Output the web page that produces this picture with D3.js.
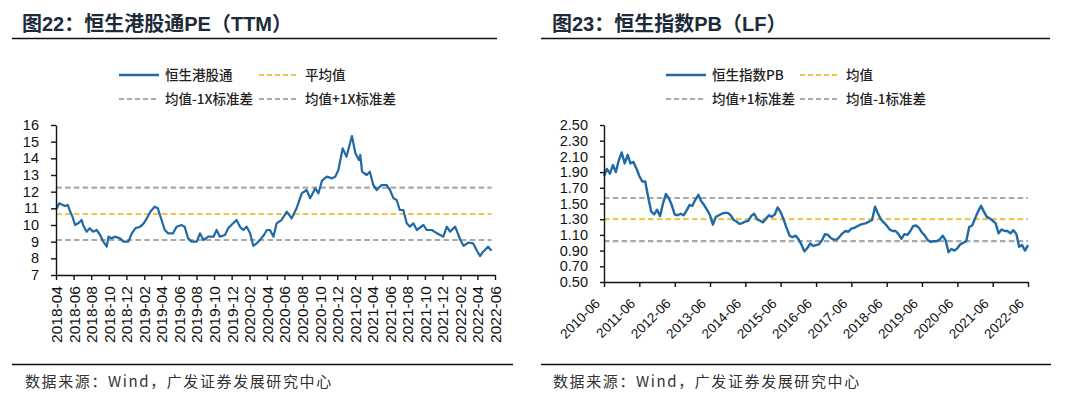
<!DOCTYPE html>
<html><head><meta charset="utf-8">
<script src="https://cdn.jsdelivr.net/npm/d3@7"></script>
<style>
body{margin:0;background:#fff;}
svg{display:block;}
</style></head>
<body>
<svg id="c" width="1080" height="399"></svg>
<script>
// ---------- Left chart: 恒生港股通PE（TTM） ----------
const peDates = ["2018-04-02","2018-04-12","2018-05-02","2018-05-12","2018-05-18","2018-05-28","2018-06-06","2018-06-17","2018-06-29","2018-07-04","2018-07-16","2018-07-27","2018-08-08","2018-08-20","2018-09-01","2018-09-12","2018-09-24","2018-09-30","2018-10-11","2018-10-22","2018-11-09","2018-11-21","2018-12-08","2018-12-20","2019-01-01","2019-01-18","2019-01-30","2019-02-10","2019-02-22","2019-03-09","2019-03-20","2019-04-02","2019-04-13","2019-04-25","2019-05-12","2019-05-24","2019-06-10","2019-06-21","2019-07-03","2019-07-15","2019-08-02","2019-08-13","2019-08-25","2019-09-11","2019-09-29","2019-10-10","2019-10-21","2019-11-08","2019-11-19","2019-12-06","2019-12-18","2019-12-30","2020-01-10","2020-01-22","2020-02-03","2020-02-14","2020-02-26","2020-03-08","2020-03-22","2020-04-01","2020-04-12","2020-04-24","2020-05-05","2020-05-22","2020-06-09","2020-06-26","2020-07-13","2020-07-31","2020-08-17","2020-08-29","2020-09-16","2020-09-27","2020-10-09","2020-10-26","2020-11-13","2020-11-24","2020-12-05","2020-12-20","2021-01-02","2021-01-21","2021-02-02","2021-02-14","2021-02-19","2021-02-25","2021-03-13","2021-03-24","2021-04-05","2021-04-17","2021-05-04","2021-05-21","2021-06-02","2021-06-14","2021-06-25","2021-07-06","2021-07-18","2021-07-30","2021-08-10","2021-08-22","2021-09-03","2021-09-26","2021-10-07","2021-10-25","2021-11-12","2021-12-04","2021-12-16","2021-12-27","2022-01-14","2022-02-01","2022-02-12","2022-03-01","2022-03-17","2022-03-29","2022-04-10","2022-04-21","2022-05-08","2022-05-20"];
const peValues = [10.94,11.30,11.14,11.20,10.90,10.50,10.00,10.10,10.30,10.00,9.60,9.80,9.60,9.70,9.40,9.00,8.70,9.30,9.20,9.30,9.20,9.00,9.00,9.50,9.80,9.90,10.10,10.40,10.80,11.10,11.00,10.30,9.70,9.50,9.50,9.90,10.00,9.90,9.20,9.00,9.00,9.50,9.10,9.30,9.30,9.70,9.30,9.40,9.80,10.10,10.30,9.90,9.70,9.90,9.50,8.75,8.90,9.10,9.40,9.70,9.70,9.30,10.10,10.30,10.80,10.40,11.00,11.90,12.10,11.60,12.20,11.90,12.66,12.90,12.80,12.90,13.30,14.60,14.10,15.34,14.30,13.90,14.20,13.20,13.00,13.20,12.40,12.10,12.40,12.40,12.10,11.60,11.50,10.90,10.90,10.10,9.90,10.10,9.70,10.00,9.70,9.70,9.50,9.30,9.90,9.60,9.90,9.10,8.75,8.95,8.90,8.50,8.14,8.40,8.70,8.46];
const peMean = 10.66, pePlus = 12.24, peMinus = 9.10;
const peXTicks = ["2018-04","2018-06","2018-08","2018-10","2018-12","2019-02","2019-04","2019-06","2019-08","2019-10","2019-12","2020-02","2020-04","2020-06","2020-08","2020-10","2020-12","2021-02","2021-04","2021-06","2021-08","2021-10","2021-12","2022-02","2022-04","2022-06"];
const peYTicks = [7,8,9,10,11,12,13,14,15,16];
const peLegend = ["恒生港股通","平均值","均值-1X标准差","均值+1X标准差"];

// ---------- Right chart: 恒生指数PB（LF） ----------
const pbDates = ["2010-06","2010-07","2010-08","2010-09","2010-10","2010-11","2010-12","2011-01","2011-02","2011-03","2011-04","2011-05",
"2011-06","2011-07","2011-08","2011-09","2011-10","2011-11","2011-12","2012-01","2012-02","2012-03","2012-04","2012-05",
"2012-06","2012-07","2012-08","2012-09","2012-10","2012-11","2012-12","2013-01","2013-02","2013-03","2013-04","2013-05",
"2013-06","2013-07","2013-08","2013-09","2013-10","2013-11","2013-12","2014-01","2014-02","2014-03","2014-04","2014-05",
"2014-06","2014-07","2014-08","2014-09","2014-10","2014-11","2014-12","2015-01","2015-02","2015-03","2015-04","2015-05",
"2015-06","2015-07","2015-08","2015-09","2015-10","2015-11","2015-12","2016-01","2016-02","2016-03","2016-04","2016-05",
"2016-06","2016-07","2016-08","2016-09","2016-10","2016-11","2016-12","2017-01","2017-02","2017-03","2017-04","2017-05",
"2017-06","2017-07","2017-08","2017-09","2017-10","2017-11","2017-12","2018-01","2018-02","2018-03","2018-04","2018-05",
"2018-06","2018-07","2018-08","2018-09","2018-10","2018-11","2018-12","2019-01","2019-02","2019-03","2019-04","2019-05",
"2019-06","2019-07","2019-08","2019-09","2019-10","2019-11","2019-12","2020-01","2020-02","2020-03","2020-04","2020-05",
"2020-06","2020-07","2020-08","2020-09","2020-10","2020-11","2020-12","2021-01","2021-02","2021-03","2021-04","2021-05",
"2021-06","2021-07","2021-08","2021-09","2021-10","2021-11","2021-12","2022-01","2022-02","2022-03","2022-04","2022-05","2022-06"];
const pbValues = [1.85,1.94,1.88,1.99,1.90,2.05,2.15,2.01,2.12,2.01,2.03,1.95,
1.85,1.78,1.78,1.58,1.40,1.36,1.42,1.34,1.50,1.62,1.57,1.48,
1.36,1.35,1.37,1.35,1.41,1.48,1.47,1.55,1.61,1.53,1.48,1.42,
1.35,1.23,1.33,1.35,1.37,1.38,1.38,1.35,1.29,1.27,1.24,1.25,
1.27,1.28,1.34,1.37,1.30,1.28,1.26,1.31,1.35,1.33,1.36,1.45,
1.39,1.30,1.19,1.09,1.07,1.09,1.05,0.98,0.89,0.93,0.99,0.96,
0.97,0.98,1.03,1.11,1.10,1.06,1.04,1.04,1.08,1.12,1.15,1.14,
1.18,1.19,1.21,1.23,1.24,1.25,1.27,1.29,1.46,1.38,1.30,1.26,
1.22,1.17,1.15,1.15,1.11,1.05,1.11,1.10,1.15,1.21,1.22,1.19,
1.13,1.09,1.03,1.01,1.02,1.02,1.04,1.09,1.03,0.88,0.92,0.90,
0.93,0.98,1.00,1.02,1.20,1.22,1.31,1.40,1.47,1.40,1.33,1.31,
1.28,1.25,1.12,1.17,1.15,1.15,1.12,1.16,1.11,0.95,0.97,0.90,0.97];
const pbMean = 1.30, pbPlus = 1.57, pbMinus = 1.02;
const pbXTicks = ["2010-06","2011-06","2012-06","2013-06","2014-06","2015-06","2016-06","2017-06","2018-06","2019-06","2020-06","2021-06","2022-06"];
const pbYTicks = [0.5,0.7,0.9,1.1,1.3,1.5,1.7,1.9,2.1,2.3,2.5];
const pbLegend = ["恒生指数PB","均值","均值+1标准差","均值-1标准差"];

const titles = ["图22：恒生港股通PE（TTM）","图23：恒生指数PB（LF）"];
const sourceText = "数据来源：Wind，广发证券发展研究中心";

const BLUE = "#1f6aa6", GOLD = "#ecc54c", GRAY = "#a9a9a9";
const CJK = "'Noto Sans CJK SC', sans-serif";
const LAT = "'Liberation Sans', Arial, 'Noto Sans CJK SC', sans-serif";

const svg = d3.select("#c");
const pDay = d3.timeParse("%Y-%m-%d"), pMon = d3.timeParse("%Y-%m");

function frame(x0, x1, t1, tx, title, srcX) {
  svg.append("text").attr("x", tx).attr("y", 31)
    .attr("font-family", LAT).attr("font-weight", "bold").attr("font-size", 20)
    .attr("fill", "#1c2a3a").text(title);
  svg.append("line").attr("x1", x0).attr("x2", t1).attr("y1", 38.5).attr("y2", 38.5)
    .attr("stroke", "#111").attr("stroke-width", 1.5);
  svg.append("line").attr("x1", x0).attr("x2", x1).attr("y1", 364.5).attr("y2", 364.5)
    .attr("stroke", "#111").attr("stroke-width", 1.5);
  svg.append("text").attr("x", srcX).attr("y", 387)
    .attr("font-family", CJK).attr("font-size", 15).attr("letter-spacing", 1.6)
    .attr("fill", "#333").text(sourceText);
}

function legend(lx1, lx2, labels) {
  const rows = [
    {x: lx1, y: 75, c: BLUE, dash: null, t: labels[0]},
    {x: lx2, y: 75, c: GOLD, dash: "5,3", t: labels[1]},
    {x: lx1, y: 99, c: GRAY, dash: "5,3", t: labels[2]},
    {x: lx2, y: 99, c: GRAY, dash: "5,3", t: labels[3]}
  ];
  rows.forEach(r => {
    svg.append("line").attr("x1", r.x).attr("x2", r.x + 40).attr("y1", r.y).attr("y2", r.y)
      .attr("stroke", r.c).attr("stroke-width", r.dash ? 2 : 2.5)
      .attr("stroke-dasharray", r.dash);
    svg.append("text").attr("x", r.x + 46).attr("y", r.y + 5)
      .attr("font-family", CJK).attr("font-size", 13.5).attr("font-weight", 500)
      .attr("fill", "#222").text(r.t);
  });
}

function styleAxis(g) {
  g.select(".domain").attr("stroke", "#111").attr("stroke-width", 1.4);
  g.selectAll(".tick line").attr("stroke", "#111").attr("stroke-width", 1.4);
  g.selectAll("text").attr("fill", "#111").attr("font-family", LAT);
}

function hline(x, y, d0, d1, v, c) {
  svg.append("line").attr("x1", x(d0)).attr("x2", x(d1)).attr("y1", y(v)).attr("y2", y(v))
    .attr("stroke", c).attr("stroke-width", 2.2).attr("stroke-dasharray", "5.5,3.3");
}

// ----- Left -----
frame(12, 513, 497, 22, titles[0], 25);
legend(119, 259, peLegend);
{
  const dates = peDates.map(pDay);
  const x = d3.scaleTime().domain([pMon("2018-04"), pMon("2022-06")]).range([56, 495]);
  const y = d3.scaleLinear().domain([7, 16]).range([275, 125]);
  const d0 = dates[0], d1 = dates[dates.length - 1];
  hline(x, y, d0, d1, pePlus, GRAY);
  hline(x, y, d0, d1, peMinus, GRAY);
  hline(x, y, d0, d1, peMean, GOLD);
  svg.append("path").datum(peValues.map((v, i) => [dates[i], v]))
    .attr("fill", "none").attr("stroke", BLUE).attr("stroke-width", 2.2)
    .attr("stroke-linejoin", "round")
    .attr("d", d3.line().x(d => x(d[0])).y(d => y(d[1])));
  const gy = svg.append("g").attr("transform", "translate(56,0)")
    .call(d3.axisLeft(y).tickValues(peYTicks).tickSize(5).tickSizeOuter(0).tickPadding(12).tickFormat(d3.format("d")));
  styleAxis(gy); gy.selectAll("text").attr("font-size", 14.5);
  const gx = svg.append("g").attr("transform", "translate(0,275)")
    .call(d3.axisBottom(x).tickValues(peXTicks.map(pMon)).tickSize(5).tickSizeOuter(0).tickFormat(d3.timeFormat("%Y-%m")));
  styleAxis(gx);
  gx.selectAll("text").attr("font-size", 15.5).attr("text-anchor", "end")
    .attr("transform", "rotate(-90)").attr("x", -11).attr("y", 0).attr("dy", "0.35em");
}

// ----- Right -----
frame(541, 1051, 1050, 552, titles[1], 553);
legend(666, 800, pbLegend);
{
  const dates = pbDates.map(pMon);
  const x = d3.scaleTime().domain([pMon("2010-06"), pMon("2022-06")]).range([604, 1028]);
  const y = d3.scaleLinear().domain([0.5, 2.5]).range([282, 125]);
  const d0 = dates[0], d1 = dates[dates.length - 1];
  hline(x, y, d0, d1, pbPlus, GRAY);
  hline(x, y, d0, d1, pbMinus, GRAY);
  hline(x, y, d0, d1, pbMean, GOLD);
  svg.append("path").datum(pbValues.map((v, i) => [dates[i], v]))
    .attr("fill", "none").attr("stroke", BLUE).attr("stroke-width", 2.4)
    .attr("stroke-linejoin", "round")
    .attr("d", d3.line().x(d => x(d[0])).y(d => y(d[1])));
  const gy = svg.append("g").attr("transform", "translate(604,0)")
    .call(d3.axisLeft(y).tickValues(pbYTicks).tickSize(4).tickSizeOuter(0).tickPadding(12).tickFormat(d3.format(".2f")));
  styleAxis(gy); gy.selectAll("text").attr("font-size", 14.5);
  const gx = svg.append("g").attr("transform", "translate(0,282)")
    .call(d3.axisBottom(x).tickValues(pbXTicks.map(pMon)).tickSize(5).tickSizeOuter(0).tickFormat(d3.timeFormat("%Y-%m")));
  styleAxis(gx);
  gx.selectAll("text").attr("font-size", 13.5).attr("text-anchor", "end")
    .attr("transform", "translate(-7,19) rotate(-45)").attr("y", 0).attr("dy", "0.35em");
}
</script>
</body></html>
